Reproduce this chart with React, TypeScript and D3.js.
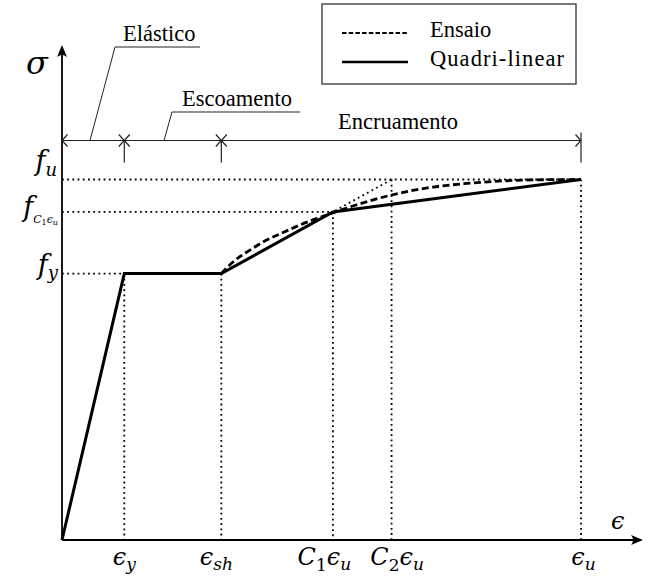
import React from 'react';
import * as d3 from 'd3';

// ---- data (normalised: strain / εu, stress / fu) ----
const keyStrainNames = ['ey', 'esh', 'c1eu', 'c2eu', 'eu'];
const keyStrains = [0.12, 0.307, 0.522, 0.635, 1.0];
const keyStressNames = ['fy', 'fc1', 'fu'];
const keyStresses = [0.739, 0.91, 1.0];

const quadriStrain = [0, 0.12, 0.307, 0.522, 1.0];
const quadriStress = [0, 0.739, 0.739, 0.91, 1.0];

const ensaioStrain = [0.307, 0.33, 0.362, 0.394, 0.426, 0.459, 0.491, 0.523, 0.549, 0.635, 0.715, 0.78, 0.908, 1.0];
const ensaioStress = [0.739, 0.772, 0.804, 0.832, 0.853, 0.874, 0.892, 0.908, 0.921, 0.957, 0.979, 0.989, 0.999, 1.0];

// tick labels
const xTickLabels = [
  ['', 'ϵ', 'y'],
  ['', 'ϵ', 'sh'],
  ['C', '1', 'ϵ', 'u'],
  ['C', '2', 'ϵ', 'u'],
  ['', 'ϵ', 'u'],
];
const legendLabels = ['Ensaio', 'Quadri-linear'];
const regionLabels = ['Elástico', 'Escoamento', 'Encruamento'];

const MATH = "'DejaVu Serif', serif";
const TEXT = "'Liberation Serif', 'DejaVu Serif', serif";

export default function App() {
  const x = d3.scaleLinear().domain([0, 1]).range([62, 581]);
  const y = d3.scaleLinear().domain([0, 1]).range([540, 179.5]);

  const quadri = d3.line<[number, number]>().x(d => x(d[0])).y(d => y(d[1]))(
    quadriStrain.map((s, i) => [s, quadriStress[i]] as [number, number])
  );
  const ensaio = d3
    .line<[number, number]>()
    .x(d => x(d[0]))
    .y(d => y(d[1]))
    .curve(d3.curveMonotoneX)(ensaioStrain.map((s, i) => [s, ensaioStress[i]] as [number, number]));

  const [ey, esh, c1, c2, eu] = keyStrains;
  const [fy, fc1, fu] = keyStresses;
  const x0 = x(0), y0 = y(0);
  const dotted = { stroke: '#000', strokeWidth: 1.8, strokeDasharray: '1.8 3.4', fill: 'none' };

  const bracketY = y(fu) - 39;
  const chev = (tx: number, dir: number) =>
    `M${tx - dir * 5.5},${bracketY - 6} L${tx},${bracketY} L${tx - dir * 5.5},${bracketY + 6}`;

  const xLabelDx = [0, -5, -8.5, 5.5, 2.5];
  const mStyle = { fontFamily: MATH };
  const tStyle = { fontFamily: TEXT };

  return (
    <svg width={648} height={580} style={{ position: 'absolute', left: 0, top: 0, background: '#fff', fontFamily: TEXT }}>
      <rect x={0} y={0} width={648} height={580} fill="#fff" />
      {/* dotted guides */}
      <line x1={x0} x2={x(ey)} y1={y(fy)} y2={y(fy)} {...dotted} />
      <line x1={x0} x2={x(c1)} y1={y(fc1)} y2={y(fc1)} {...dotted} />
      <line x1={x0} x2={x(eu)} y1={y(fu)} y2={y(fu)} {...dotted} />
      <line x1={x(ey)} x2={x(ey)} y1={y(fy)} y2={y0} {...dotted} />
      <line x1={x(esh)} x2={x(esh)} y1={y(fy)} y2={y0} {...dotted} />
      <line x1={x(c1)} x2={x(c1)} y1={y(fc1)} y2={y0} {...dotted} />
      <line x1={x(c2)} x2={x(c2)} y1={y(fu)} y2={y0} {...dotted} />
      <line x1={x(eu)} x2={x(eu)} y1={y(fu)} y2={y0} {...dotted} />
      <line x1={x(esh)} x2={x(c2)} y1={y(fy)} y2={y(fu)} {...dotted} />

      {/* curves */}
      <path d={ensaio || ''} fill="none" stroke="#000" strokeWidth={2.8} strokeDasharray="7 3.5" />
      <path d={quadri || ''} fill="none" stroke="#000" strokeWidth={3} strokeLinejoin="miter" />

      {/* axes */}
      <line x1={x0} x2={x0} y1={y0} y2={52} stroke="#000" strokeWidth={1.8} />
      <line x1={x0} x2={636} y1={y0} y2={y0} stroke="#000" strokeWidth={1.8} />
      <path d={`M${x0},45 L${x0 - 5},57 Q${x0},53 ${x0 + 5},57 Z`} fill="#000" />
      <path d={`M643,${y0} L631,${y0 - 5} Q635,${y0} 631,${y0 + 5} Z`} fill="#000" />
      <text x={26} y={74} fontSize={32} fontStyle="italic" style={mStyle}>σ</text>
      <text x={611} y={529} fontSize={24} fontStyle="italic" style={mStyle}>ϵ</text>

      {/* y labels */}
      <text x={57} y={170} fontSize={27} fontStyle="italic" textAnchor="end" style={mStyle}>
        f<tspan fontSize={18} dy={6}>u</tspan>
      </text>
      <text x={58} y={216} fontSize={27} fontStyle="italic" textAnchor="end" style={mStyle}>
        f<tspan fontSize={11} dy={7}>C</tspan>
        <tspan fontSize={8} dy={2} fontStyle="normal">1</tspan>
        <tspan fontSize={11} dy={-2}>ϵ</tspan>
        <tspan fontSize={8} dy={2}>u</tspan>
      </text>
      <text x={58} y={274} fontSize={27} fontStyle="italic" textAnchor="end" style={mStyle}>
        f<tspan fontSize={18} dy={5}>y</tspan>
      </text>

      {/* x labels */}
      {xTickLabels.map((lab, i) => (
        <text key={keyStrainNames[i]} x={x(keyStrains[i]) + xLabelDx[i]} y={565} fontSize={24}
          fontStyle="italic" textAnchor="middle" style={mStyle}>
          {lab.length === 3 ? (
            <>
              {lab[1]}
              <tspan fontSize={17} dy={5}>{lab[2]}</tspan>
            </>
          ) : (
            <>
              {lab[0]}
              <tspan fontSize={17} dy={6} fontStyle="normal">{lab[1]}</tspan>
              <tspan dy={-6}>{lab[2]}</tspan>
              <tspan fontSize={17} dy={5}>{lab[3]}</tspan>
            </>
          )}
        </text>
      ))}

      {/* region bracket */}
      <g stroke="#222" strokeWidth={1.2} fill="none">
        <line x1={x0} x2={x(eu)} y1={bracketY} y2={bracketY} />
        <path d={chev(x0, -1)} />
        <path d={chev(x(ey), 1)} />
        <path d={chev(x(ey), -1)} />
        <path d={chev(x(esh), 1)} />
        <path d={chev(x(esh), -1)} />
        <path d={chev(x(eu), 1)} />
        <line x1={x(ey)} x2={x(ey)} y1={bracketY} y2={bracketY + 22} />
        <line x1={x(esh)} x2={x(esh)} y1={bracketY} y2={bracketY + 22} />
        <line x1={x(eu)} x2={x(eu)} y1={bracketY - 8} y2={bracketY + 22} />
        <polyline points={`90,${bracketY} 115,47 200,47`} strokeWidth={1} />
        <polyline points={`164,${bracketY} 172,112 300,112`} strokeWidth={1} />
      </g>
      <text x={123} y={41} fontSize={22.5} style={tStyle}>{regionLabels[0]}</text>
      <text x={182} y={106} fontSize={22.5} style={tStyle}>{regionLabels[1]}</text>
      <text x={338} y={129} fontSize={22.5} style={tStyle}>{regionLabels[2]}</text>

      {/* legend */}
      <rect x={322} y={4} width={254} height={80} fill="#fff" stroke="#333" strokeWidth={1.3} />
      <line x1={342} x2={408} y1={33} y2={33} stroke="#000" strokeWidth={2} strokeDasharray="4.5 2.2" />
      <line x1={342} x2={408} y1={62} y2={62} stroke="#000" strokeWidth={2.6} />
      <text x={430} y={37} fontSize={22.5} style={tStyle}>{legendLabels[0]}</text>
      <text x={430} y={66} fontSize={22.5} style={tStyle} textLength={134} lengthAdjust="spacing">{legendLabels[1]}</text>
    </svg>
  );
}
